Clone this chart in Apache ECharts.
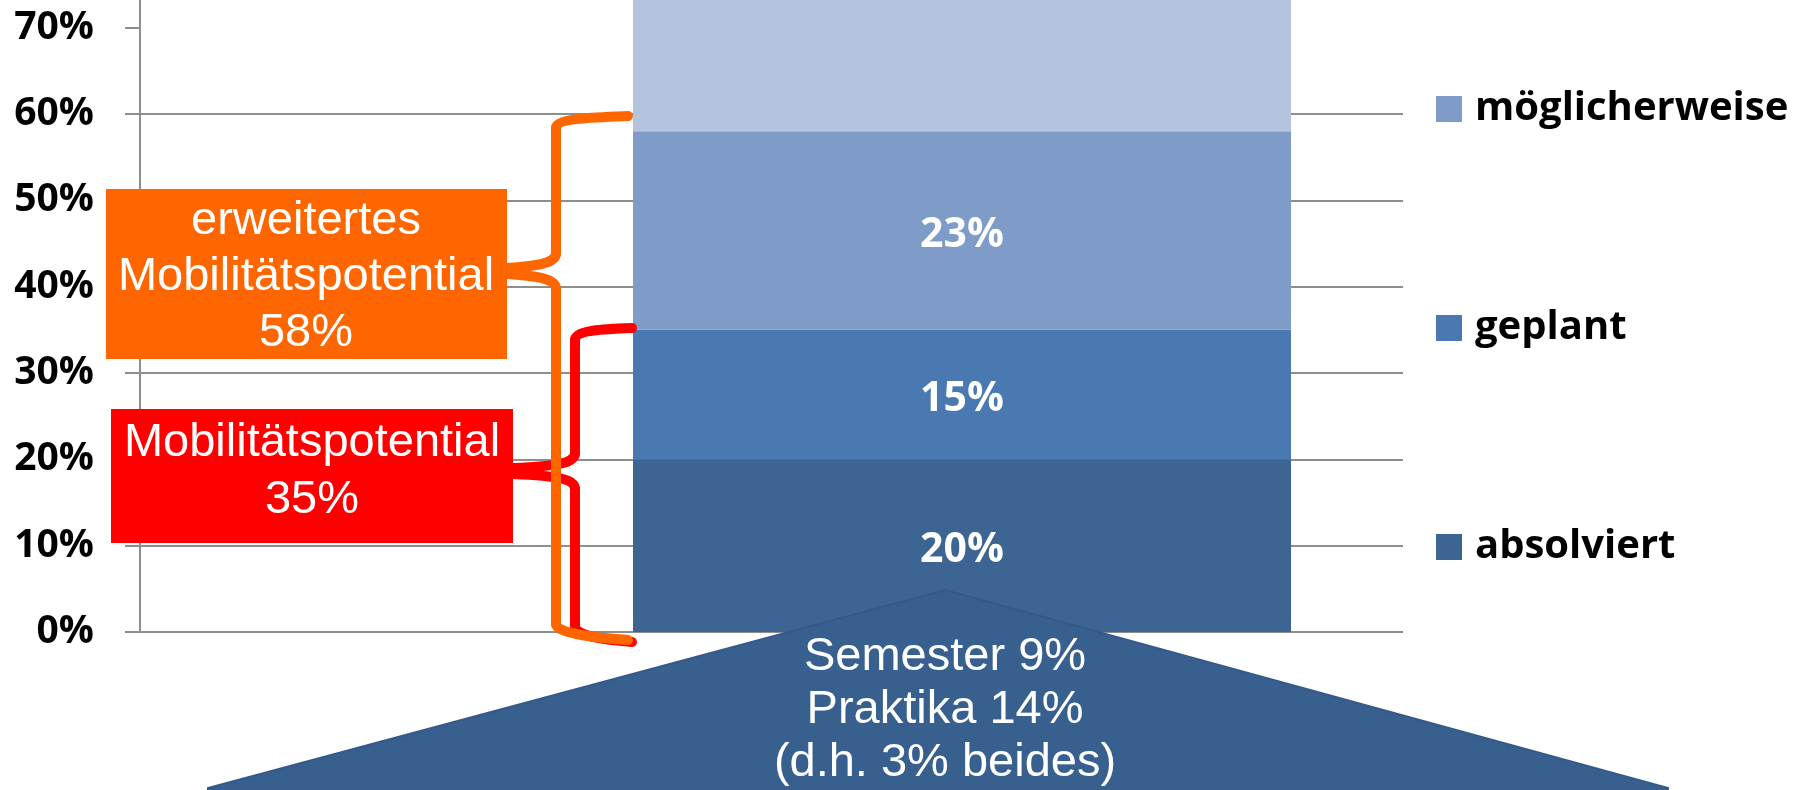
<!DOCTYPE html>
<html>
<head>
<meta charset="utf-8">
<script src="https://cdn.jsdelivr.net/npm/echarts@6/dist/echarts.min.js"></script>
<style>
  html, body { margin: 0; padding: 0; background: #fff; }
  #chart { width: 1804px; height: 790px; }
</style>
</head>
<body>
<div id="chart"></div>
<script>
// data
const categories = ['']
const absolviert = [0.20]
const geplant = [0.15]
const moeglicherweise = [0.23]
const rest = [0.42]
const legendNames = ['möglicherweise', 'geplant', 'absolviert']
const yTicks = [0, 0.1, 0.2, 0.3, 0.4, 0.5, 0.6, 0.7]
const yMin = 0
const yMax = 0.732 // visible top of the cropped chart

const pct = v => Math.round(v * 100) + '%'
const gridColor = '#8e8e8e'
const arial = '"Liberation Sans", Arial, sans-serif'
const bold = '"Open Sans", sans-serif'

const chart = echarts.init(document.getElementById('chart'))

function barSeries(name, data, color, showLabel) {
  return {
    name: name,
    type: 'bar',
    stack: 'total',
    xAxisIndex: 1,
    yAxisIndex: 1,
    barWidth: '100%',
    clip: true,
    data: data,
    itemStyle: { color: color },
    label: {
      show: showLabel,
      position: 'inside',
      formatter: p => pct(p.value),
      color: '#fff',
      fontFamily: bold,
      fontWeight: 'bold',
      fontSize: 41,
      offset: [0, 5]
    }
  }
}

// curly brace opening to the right: x = vertical stroke, tipX = where the tip meets the box
function brace(x, yTop, yMid, yBot, xEnd, tipX, color, z) {
  const st = { fill: null, stroke: color, lineWidth: 10, lineCap: 'round' }
  const cur = (x1, y1, x2, y2, c1x, c1y, c2x, c2y) => ({
    type: 'bezierCurve', z: z, style: st,
    shape: { x1: x1, y1: y1, x2: x2, y2: y2, cpx1: c1x, cpy1: c1y, cpx2: c2x, cpy2: c2y }
  })
  const lin = (x1, y1, x2, y2) => ({ type: 'line', z: z, style: st, shape: { x1: x1, y1: y1, x2: x2, y2: y2 } })
  return [
    cur(xEnd, yTop, x, yTop + 12, xEnd - 28, yTop + 1, x, yTop + 2),
    lin(x, yTop + 12, x, yMid - 18),
    cur(x, yMid - 18, tipX, yMid - 3, x, yMid - 8, x - 16, yMid - 5),
    cur(tipX, yMid + 3, x, yMid + 18, x - 16, yMid + 5, x, yMid + 8),
    lin(x, yMid + 18, x, yBot - 16),
    cur(x, yBot - 16, xEnd, yBot, x, yBot - 6, xEnd - 28, yBot - 2)
  ]
}

chart.setOption({
  animation: false,
  backgroundColor: '#fff',
  grid: [
    { left: 140, right: 401, top: 0, bottom: 158, outerBoundsMode: 'none' },
    { left: 633, right: 513, top: 0, bottom: 158, outerBoundsMode: 'none' }
  ],
  xAxis: [
    { type: 'category', gridIndex: 0, data: categories, axisLine: { show: false }, axisTick: { show: false }, axisLabel: { show: false } },
    { type: 'category', gridIndex: 1, data: categories, axisLine: { show: false }, axisTick: { show: false }, axisLabel: { show: false } }
  ],
  yAxis: [
    {
      type: 'value',
      gridIndex: 0,
      min: yMin,
      max: yMax,
      interval: 0.1,
      axisLine: { show: true, lineStyle: { color: gridColor, width: 2 } },
      axisTick: { show: true, length: 15, customValues: yTicks, lineStyle: { color: gridColor, width: 2 } },
      splitLine: { show: true, showMaxLine: false, lineStyle: { color: gridColor, width: 2 } },
      axisLabel: {
        customValues: yTicks,
        formatter: v => pct(v),
        margin: 46,
        color: '#000',
        fontFamily: bold,
        fontWeight: 'bold',
        fontSize: 39
      }
    },
    { type: 'value', gridIndex: 1, min: yMin, max: yMax, show: false, splitLine: { show: false } }
  ],
  legend: {
    data: legendNames,
    orient: 'vertical',
    left: 1431,
    top: 84,
    itemWidth: 26,
    itemHeight: 26,
    itemGap: 179,
    icon: 'rect',
    textStyle: {
      color: '#000',
      fontFamily: bold,
      fontWeight: 'bold',
      fontSize: 40,
      padding: [0, 0, 0, 8]
    }
  },
  series: [
    barSeries('absolviert', absolviert, '#3d6594', true),
    barSeries('geplant', geplant, '#4a78b0', true),
    barSeries('möglicherweise', moeglicherweise, '#7e9cc7', true),
    barSeries('nein', rest, '#b4c4de', false)
  ],
  graphic: [].concat(
    brace(575, 328, 471, 642, 632, 513, '#ff0000', 50),
    brace(556, 116, 271, 640, 628, 507, '#ff6600', 51),
    [
      {
        type: 'rect', z: 52,
        shape: { x: 106, y: 189, width: 401, height: 170 },
        style: { fill: '#ff6600' }
      },
      {
        type: 'text', z: 53, x: 306, y: 277,
        style: {
          text: 'erweitertes\nMobilitätspotential\n58%',
          fill: '#fff', font: '47px ' + arial, lineHeight: 56,
          align: 'center', verticalAlign: 'middle'
        }
      },
      {
        type: 'rect', z: 52,
        shape: { x: 111, y: 409, width: 402, height: 134 },
        style: { fill: '#ff0000' }
      },
      {
        type: 'text', z: 53, x: 312, y: 472,
        style: {
          text: 'Mobilitätspotential\n35%',
          fill: '#fff', font: '47px ' + arial, lineHeight: 57,
          align: 'center', verticalAlign: 'middle'
        }
      },
      // callout under the bar
      {
        type: 'polygon', z: 54,
        shape: { points: [[945, 590], [1668, 788], [1668, 800], [208, 800], [208, 788]] },
        style: { fill: '#38608f', stroke: '#34598a', lineWidth: 2 }
      },
      {
        type: 'text', z: 55, x: 945, y: 710,
        style: {
          text: 'Semester 9%\nPraktika 14%\n(d.h. 3% beides)',
          fill: '#fff', font: '47px ' + arial, lineHeight: 53,
          align: 'center', verticalAlign: 'middle'
        }
      }
    ]
  )
})
</script>
</body>
</html>
